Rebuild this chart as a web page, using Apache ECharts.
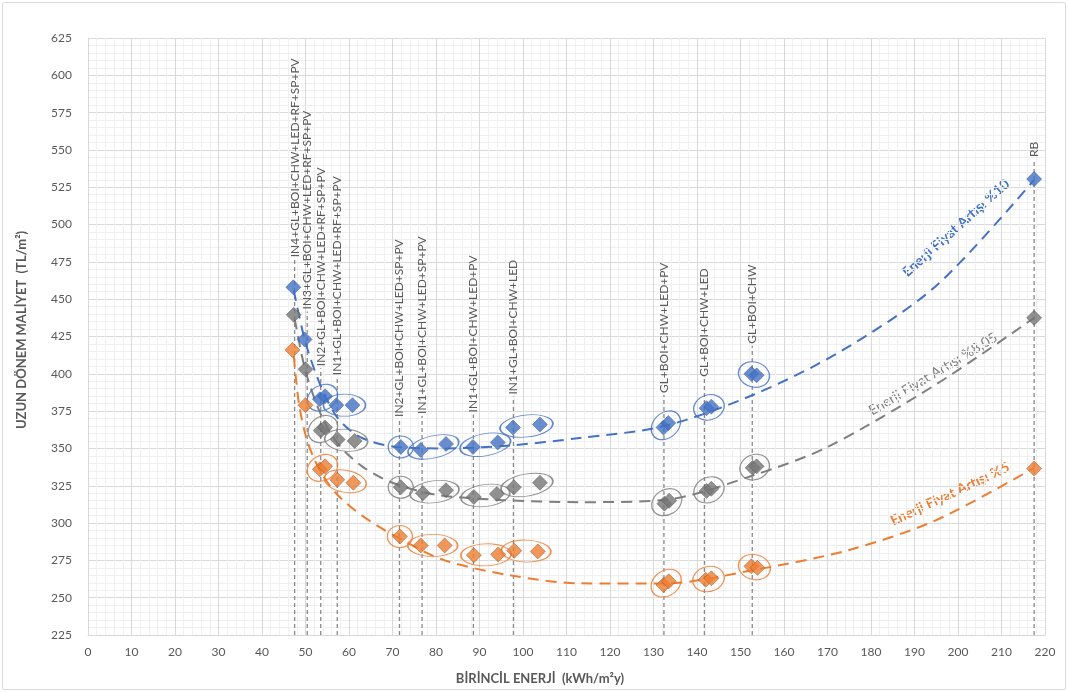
<!DOCTYPE html>
<html>
<head>
<meta charset="utf-8">
<script src="https://cdn.jsdelivr.net/npm/echarts@6/dist/echarts.min.js"></script>
<style>html,body{margin:0;padding:0;background:#fff}#c{width:1068px;height:692px}</style>
</head>
<body>
<div id="c"></div>
<script>
// ---- data ----
const blueX   = [47.2, 49.8, 53.3, 54.5, 57.1, 60.8, 71.9, 76.5, 82.3, 88.5, 94.2, 97.7, 103.9, 132.3, 133.4, 142.2, 143.3, 152.5, 153.7, 217.5];
const blueY   = [458, 423, 383, 385, 379, 379, 351, 349, 353, 351, 354, 364, 366, 364, 367, 377, 378, 400, 399, 530.5];
const grayX   = [47.3, 50.0, 53.5, 54.5, 57.4, 61.3, 71.9, 77.0, 82.3, 88.7, 94.0, 97.9, 103.9, 132.5, 133.6, 142.2, 143.3, 152.8, 153.7, 217.5];
const grayY   = [439.5, 403, 362, 364, 356, 355, 324, 320, 322, 317.5, 319.5, 324, 327, 313, 315, 321.5, 323, 337, 338, 437.5];
const orangeX = [47.0, 50.0, 53.3, 54.5, 57.3, 61.0, 71.7, 76.5, 82.0, 88.7, 94.3, 98.0, 103.4, 132.3, 133.5, 142.0, 143.3, 152.5, 153.9, 217.5];
const orangeY = [416, 379, 336, 338, 329, 327, 291, 285, 285, 278.5, 279, 281.5, 281, 258.5, 261, 262, 263, 271, 270, 336.5];

const blueTrendX   = [47.3, 50, 53.5, 57.5, 63, 71, 82, 97, 113, 132.5, 153, 173, 195, 217.5];
const blueTrendY   = [456, 421, 392, 370, 357, 351, 350, 352, 357, 365, 386, 415, 459, 530];
const grayTrendX   = [47.5, 50, 53.5, 57.5, 63, 70, 80, 95, 113, 132.5, 153, 170, 195, 217.5];
const grayTrendY   = [437, 402, 373, 353, 338, 327, 319, 315.5, 314, 315.5, 332, 351, 393, 437.5];
const orangeTrendX = [47.3, 48.5, 50.3, 53, 57, 63, 72, 82, 97, 113, 132.5, 153, 175, 195, 217.5];
const orangeTrendY = [412, 380, 356, 337, 320, 305, 289, 275, 265, 259.6, 259.5, 268.5, 282, 302, 337];

const vLineX  = [47.5, 50.4, 53.5, 57.3, 71.6, 76.8, 88.6, 97.8, 132.4, 141.7, 152.7, 217.5];
const vLabels = ['IN4+GL+BOI+CHW+LED+RF+SP+PV', 'IN3+GL+BOI+CHW+LED+RF+SP+PV', 'IN2+GL+BOI+CHW+LED+RF+SP+PV',
  'IN1+GL+BOI+CHW+LED+RF+SP+PV', 'IN2+GL+BOI+CHW+LED+SP+PV', 'IN1+GL+BOI+CHW+LED+SP+PV',
  'IN1+GL+BOI+CHW+LED+PV', 'IN1+GL+BOI+CHW+LED', 'GL+BOI+CHW+LED+PV', 'GL+BOI+CHW+LED', 'GL+BOI+CHW', 'RB'];
// point indices belonging to each vertical line (group)
const groups = [[0],[1],[2,3],[4,5],[6],[7,8],[9,10],[11,12],[13,14],[15,16],[17,18],[19]];
const circledGroups = [2,3,4,5,6,7,8,9,10];

const xTicks = [0, 220, 10];
const yTicks = [225, 625, 25];
const seriesNames = ['Enerji Fiyat Artışı %10', 'Enerji Fiyat Artışı %8,05', 'Enerji Fiyat Artışı %5'];

// ---- layout / style ----
const G = {left: 88, right: 23, top: 38, bottom: 57};
const W = 1068, H = 692;
const sx = (W - G.left - G.right) / (xTicks[1] - xTicks[0]);
const sy = (H - G.top - G.bottom) / (yTicks[1] - yTicks[0]);
const FONT = 'Lato, "Open Sans", sans-serif';
const C = {blue: '#4472C4', gray: '#7F7F7F', orange: '#ED7D31', text: '#595959'};

const zip = (a, b) => a.map((v, i) => [v, b[i]]);

function ellipses(X, Y) {
  return circledGroups.map(g => {
    const idx = groups[g];
    const xs = idx.map(i => X[i]), ys = idx.map(i => Y[i]);
    const cx = xs.reduce((a, b) => a + b, 0) / xs.length;
    const cy = ys.reduce((a, b) => a + b, 0) / ys.length;
    const dx = (xs[xs.length - 1] - xs[0]) * sx;
    const dy = (ys[ys.length - 1] - ys[0]) * sy;
    const len = Math.sqrt(dx * dx + dy * dy);
    const ang = len > 0 ? Math.atan2(dy, dx) * 180 / Math.PI : 0;
    const w = idx.length > 1 ? len + 26 : 25;
    const h = idx.length > 1 && len < 12 ? 25 : 22;
    return {value: [cx, cy], symbolSize: [w, h], symbolRotate: ang};
  });
}

function ellSeries(X, Y, color) {
  return {
    type: 'scatter', symbol: 'circle', silent: true, z: 3,
    data: ellipses(X, Y),
    itemStyle: {color: 'rgba(255,255,255,0)', borderColor: color, borderWidth: 1.2, opacity: 0.85}
  };
}
function trend(X, Y, color) {
  return {
    type: 'line', data: zip(X, Y), smooth: 0.3, symbol: 'none', z: 2, silent: true,
    lineStyle: {color: color, width: 2, type: [11, 7]}
  };
}
function pts(X, Y, color, border) {
  return {
    type: 'scatter', data: zip(X, Y), symbol: 'diamond', symbolSize: 15, z: 5,
    itemStyle: {color: color, borderColor: border, borderWidth: 0.6}
  };
}

const vData = vLineX.map((x, i) => {
  const top = Math.max.apply(null, groups[i].map(k => blueY[k]));
  return [x, top, i];
});

const chart = echarts.init(document.getElementById('c'), null, {renderer: 'canvas'});
chart.setOption({
  animation: false,
  backgroundColor: '#fff',
  grid: {left: G.left, right: G.right, top: G.top, bottom: G.bottom, containLabel: false},
  xAxis: {
    type: 'value', min: xTicks[0], max: xTicks[1], interval: xTicks[2],
    axisLine: {show: true, lineStyle: {color: '#d9d9d9'}},
    axisTick: {show: false},
    axisLabel: {color: C.text, fontFamily: FONT, fontSize: 12, margin: 11},
    splitLine: {show: true, lineStyle: {color: '#d9d9d9', width: 1}},
    minorTick: {show: false, splitNumber: 5},
    minorSplitLine: {show: true, lineStyle: {color: '#f0f0f0', width: 1}}
  },
  yAxis: {
    type: 'value', min: yTicks[0], max: yTicks[1], interval: yTicks[2],
    axisLine: {show: true, lineStyle: {color: '#d9d9d9'}},
    axisTick: {show: false},
    axisLabel: {color: C.text, fontFamily: FONT, fontSize: 12, margin: 16},
    splitLine: {show: true, lineStyle: {color: '#d9d9d9', width: 1}},
    minorTick: {show: false, splitNumber: 5},
    minorSplitLine: {show: true, lineStyle: {color: '#f0f0f0', width: 1}}
  },
  series: [
    {
      type: 'custom', z: 1, silent: true, clip: false,
      data: vData,
      encode: {x: 0, y: 1},
      renderItem: function (params, api) {
        const x = api.value(0), top = api.value(1), li = api.value(2);
        const pb = api.coord([x, yTicks[0]]);
        const pt = api.coord([x, top]);
        const yEnd = pt[1] - (li === vLabels.length - 1 ? 20 : 28);
        return {
          type: 'group',
          children: [
            {type: 'line', shape: {x1: pb[0], y1: pb[1], x2: pb[0], y2: yEnd},
             style: {stroke: '#8a8a8a', lineWidth: 1.3, lineDash: [4, 3]}},
            {type: 'text', x: pb[0], y: yEnd - 2, rotation: Math.PI / 2,
             style: {text: vLabels[li], fill: C.text, font: '12px ' + FONT, align: 'left', verticalAlign: 'middle'}}
          ]
        };
      }
    },
    trend(blueTrendX, blueTrendY, C.blue),
    trend(grayTrendX, grayTrendY, C.gray),
    trend(orangeTrendX, orangeTrendY, C.orange),
    ellSeries(blueX, blueY, C.blue),
    ellSeries(grayX, grayY, C.gray),
    ellSeries(orangeX, orangeY, C.orange),
    pts(blueX, blueY, C.blue, '#2f5597'),
    pts(grayX, grayY, '#767676', '#505050'),
    pts(orangeX, orangeY, C.orange, '#9c4a14')
  ],
  graphic: [
    {type: 'rect', shape: {x: 2.5, y: 2.5, width: W - 5, height: H - 5, r: 2}, silent: true,
     style: {fill: 'none', stroke: '#d9d9d9', lineWidth: 1}, z: -10},
    {type: 'text', x: 22, y: 330, rotation: Math.PI / 2, silent: true,
     style: {text: 'UZUN DÖNEM MALİYET  (TL/m²)', fill: C.text, font: 'bold 13px ' + FONT, align: 'center', verticalAlign: 'middle'}},
    {type: 'text', x: 540, y: 679, silent: true,
     style: {text: 'BİRİNCİL ENERJİ  (kWh/m²y)', fill: C.text, font: 'bold 13px ' + FONT, align: 'center', verticalAlign: 'middle'}},
    {type: 'text', x: 956, y: 228, rotation: 0.73, silent: true,
     style: {text: seriesNames[0], fill: C.blue, font: 'bold 14px ' + FONT, align: 'center', verticalAlign: 'middle'}},
    {type: 'text', x: 933, y: 374, rotation: 0.54, silent: true,
     style: {text: seriesNames[1], fill: C.gray, font: '14px ' + FONT, align: 'center', verticalAlign: 'middle'}},
    {type: 'text', x: 950, y: 494, rotation: 0.44, silent: true,
     style: {text: seriesNames[2], fill: C.orange, font: 'bold 14px ' + FONT, align: 'center', verticalAlign: 'middle'}}
  ]
});
</script>
</body>
</html>
